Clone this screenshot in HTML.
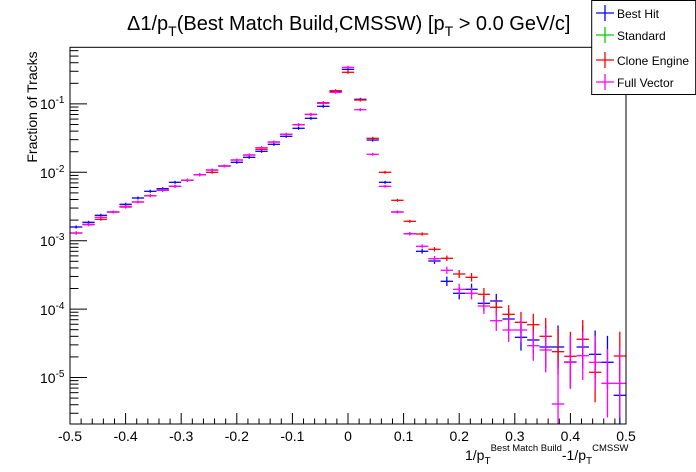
<!DOCTYPE html>
<html><head><meta charset="utf-8"><style>
html,body{margin:0;padding:0;background:#fff;}
svg{display:block;font-family:"Liberation Sans",sans-serif;}
</style></head><body>
<svg id="s" width="696" height="472" viewBox="0 0 696 472" xmlns="http://www.w3.org/2000/svg">
<rect width="696" height="472" fill="#fff"/>
<g id="data"></g>
<rect x="70" y="47.3" width="556" height="376.7" fill="none" stroke="#000" stroke-width="1"/>
<g id="ticks" stroke="#000" stroke-width="1"></g>
<g font-size="14" fill="#000" text-anchor="middle">
<text x="70" y="441">-0.5</text><text x="125.6" y="441">-0.4</text><text x="181.2" y="441">-0.3</text><text x="236.8" y="441">-0.2</text><text x="292.4" y="441">-0.1</text><text x="348" y="441">0</text><text x="403.6" y="441">0.1</text><text x="459.2" y="441">0.2</text><text x="514.8" y="441">0.3</text><text x="570.4" y="441">0.4</text><text x="626" y="441">0.5</text>
</g>
<g font-size="14" fill="#000">
<text x="40" y="109">10<tspan font-size="10" dy="-6">-1</tspan></text>
<text x="40" y="178">10<tspan font-size="10" dy="-6">-2</tspan></text>
<text x="40" y="246">10<tspan font-size="10" dy="-6">-3</tspan></text>
<text x="40" y="315">10<tspan font-size="10" dy="-6">-4</tspan></text>
<text x="40" y="383">10<tspan font-size="10" dy="-6">-5</tspan></text>
</g>
<text transform="translate(37,107) rotate(-90)" font-size="14" text-anchor="middle">Fraction of Tracks</text>
<text x="465" y="460" font-size="14">1/p<tspan font-size="10" dy="4">T</tspan><tspan font-size="9.5" dy="-13">Best Match Build</tspan><tspan font-size="14" dy="9">-1/p</tspan><tspan font-size="10" dy="4">T</tspan><tspan font-size="9.5" dy="-13">CMSSW</tspan></text>
<text x="127" y="30" font-size="20">Δ1/p<tspan font-size="14" dy="6">T</tspan><tspan dy="-6">(Best Match Build,CMSSW) [p</tspan><tspan font-size="14" dy="6">T</tspan><tspan dy="-6"> &gt; 0.0 GeV/c]</tspan></text>
<rect x="591.7" y="0.5" width="104" height="94" fill="#fff" stroke="#000" stroke-width="1"/>
<g stroke-width="1.3">
<line x1="596" y1="13" x2="614" y2="13" stroke="#00f"/><line x1="605" y1="5" x2="605" y2="21" stroke="#00f"/>
<line x1="596" y1="35" x2="614" y2="35" stroke="#0c0"/><line x1="605" y1="27" x2="605" y2="43" stroke="#0c0"/>
<line x1="596" y1="60" x2="614" y2="60" stroke="#f00"/><line x1="605" y1="52" x2="605" y2="68" stroke="#f00"/>
<line x1="596" y1="82" x2="614" y2="82" stroke="#f0f"/><line x1="605" y1="74" x2="605" y2="90" stroke="#f0f"/>
</g>
<g font-size="12" fill="#000">
<text x="617" y="18">Best Hit</text><text x="617" y="40">Standard</text><text x="617" y="65">Clone Engine</text><text x="617" y="87">Full Vector</text>
</g>
</svg>
<script>
var NS="http://www.w3.org/2000/svg";
function L(g,x1,y1,x2,y2,c,w){var l=document.createElementNS(NS,"line");l.setAttribute("x1",x1);l.setAttribute("y1",y1);l.setAttribute("x2",x2);l.setAttribute("y2",y2);l.setAttribute("stroke",c);l.setAttribute("stroke-width",w||1);g.appendChild(l);}
var t=document.getElementById("ticks");
for(var i=0;i<=50;i++){var x=70+i*11.12;var maj=(i%5==0);L(t,x,424,x,424-(maj?11:5.5),"#000");}
function yl(lg){return 172.3-68.4*(lg+2);}
for(var d=-6;d<=0;d++){for(var m=1;m<=9;m++){var y=yl(d+Math.log10(m));if(y<47.3||y>424)continue;L(t,70,y,70+(m==1?17:8.5),y,"#000");}}
var B=[227,222.3,215.3,212,204.3,198,191.3,188.7,182.3,180.3,174.7,170,166,162.3,157.3,151.3,144.3,136.3,128.3,118.3,106.3,91.5,69.3,99.3,140,182.3,212,233.7,251.3,261,281.3,293.3,289.3,303.3,301,319,337.3,340,347,347,362,347,354.3,362.3,395.3];
var R=[233,224.7,219.3,212,207,202,195.7,190.3,186.3,180.3,174.7,172.3,166,160,155,149.3,142,134.3,124.7,114.5,102.7,90.7,72.3,100,138.3,172.3,200.3,221.3,234,249.3,258.3,274,277.3,294.3,307.3,314.3,322.3,324.7,336.3,351.7,356.3,339.3,372.3,null,356];
var M=[233,224.3,217.3,212,206.3,202,195.7,190.3,186.3,180.3,174.7,170,166,160,155,147.7,142,134.3,124.7,114.3,103.3,92.3,67.3,109.7,154.3,186.3,212,233.7,246.3,258.7,270.3,289.3,293.3,306,320.7,330,330,345.7,350,404,362.3,355.7,362.3,383.3,383.3];
var g=document.getElementById("data");var bw=556/45;
function draw(arr,c){for(var k=0;k<arr.length;k++){var y=arr[k];if(y==null)continue;var x0=70+k*bw,x1=x0+bw,xc=x0+bw/2;
var e=y<220?1.5:1.5+Math.pow((y-220)/160,2)*22; if(k>=38)e*=1.4;
L(g,x0,y,x1,y,c,1.3);L(g,xc,y-e,xc,Math.min(424,y+e),c,1.3);}}
draw(B,"#00f");draw(R,"#f00");draw(M,"#f0f");
</script>
</body></html>
